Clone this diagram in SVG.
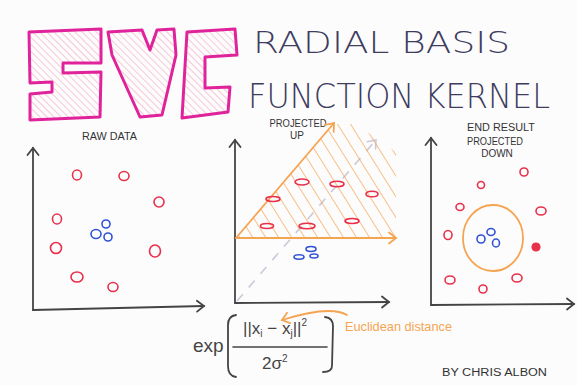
<svg xmlns="http://www.w3.org/2000/svg" width="577" height="385" viewBox="0 0 577 385">
  <style>
    .axis { fill: none; stroke: #444; stroke-width: 1.8; stroke-linecap: round; }
    .red { fill: none; stroke: #e8304a; stroke-width: 1.6; }
    .blue { fill: none; stroke: #2f52d6; stroke-width: 1.6; }
    .orange { fill: none; stroke: #f5a452; stroke-width: 1.8; stroke-linecap: round; }
    .letter { stroke: #e0239a; stroke-width: 3; stroke-linejoin: round; fill: url(#hatchPink); }
    .title { font-family: "DejaVu Sans", "Liberation Sans", Arial, sans-serif; font-weight: 200; fill: #3e3c60; }
    .label { font-family: "Liberation Sans", Arial, sans-serif; fill: #333; font-size: 10px; }
    .math { font-family: "Liberation Sans", Arial, sans-serif; fill: #444; }
  </style>
  <defs>
    <pattern id="hatchPink" width="5" height="5" patternUnits="userSpaceOnUse" patternTransform="rotate(-45)">
      <line x1="0" y1="0" x2="0" y2="5" stroke="#f3abc3" stroke-width="1.3"/>
    </pattern>
    <pattern id="hatchOrange" width="11" height="11" patternUnits="userSpaceOnUse" patternTransform="rotate(-32)">
      <line x1="0" y1="0" x2="0" y2="11" stroke="#f5a452" stroke-width="1.4"/>
    </pattern>
    <clipPath id="hatchClip">
      <polygon points="236,238 334,124 356,124 396,152 396,238"/>
    </clipPath>
    <marker id="arrowDark" markerWidth="14" markerHeight="14" refX="10" refY="7" orient="auto" markerUnits="userSpaceOnUse">
      <path d="M3,1.5 L10,7 L3,12.5" fill="none" stroke="#444" stroke-width="1.8" stroke-linecap="round"/>
    </marker>
    <marker id="arrowOrange" markerWidth="14" markerHeight="14" refX="10" refY="7" orient="auto" markerUnits="userSpaceOnUse">
      <path d="M3,1.5 L10,7 L3,12.5" fill="none" stroke="#f5a452" stroke-width="1.8" stroke-linecap="round"/>
    </marker>
    <marker id="arrowGray" markerWidth="14" markerHeight="14" refX="10" refY="7" orient="auto" markerUnits="userSpaceOnUse">
      <path d="M3,1.5 L10,7 L3,12.5" fill="none" stroke="#c9cad9" stroke-width="1.6" stroke-linecap="round"/>
    </marker>
  </defs>

  <rect width="577" height="385" fill="#fdfcfd"/>

  <!-- SVG letters -->
  <g id="logo-svg">
    <path class="letter" d="M29,32 L101,29 L101,63 L63,63 L63,73 L101,72 L100,117 L30,120 L30,94 L52,92 L52,82 L30,83 Z"/>
    <path class="letter" d="M108,32 L142,30 L150,50 L157,30 L174,29 L176,55 L162,115 L140,117 L112,55 Z"/>
    <path class="letter" d="M187,32 L235,29 L237,55 L205,57 L205,88 L230,87 L228,112 L182,118 Z"/>
  </g>

  <!-- Title -->
  <g id="title">
    <text class="title" x="253" y="53" font-size="31" textLength="257" lengthAdjust="spacingAndGlyphs">RADIAL BASIS</text>
    <text class="title" transform="translate(248,108) scale(1,1.12)" x="0" y="0" font-size="30" textLength="302" lengthAdjust="spacingAndGlyphs">FUNCTION KERNEL</text>
  </g>

  <!-- Connectors: axes and arrows -->
  <g id="connectors">
    <line class="axis" x1="33" y1="310" x2="33" y2="148" marker-end="url(#arrowDark)"/>
    <line class="axis" x1="33" y1="310" x2="204" y2="306" marker-end="url(#arrowDark)"/>
    <line class="axis" x1="235" y1="303" x2="235" y2="140" marker-end="url(#arrowDark)"/>
    <line class="axis" x1="235" y1="303" x2="389" y2="302" marker-end="url(#arrowDark)"/>
    <line class="axis" x1="431" y1="305" x2="431" y2="138" marker-end="url(#arrowDark)"/>
    <line class="axis" x1="431" y1="305" x2="574" y2="304" marker-end="url(#arrowDark)"/>
    <line x1="237" y1="301" x2="376" y2="140" stroke="#c9cad9" stroke-width="1.6" stroke-dasharray="9,9" marker-end="url(#arrowGray)"/>
    <path class="orange" d="M347,315 Q330,305 282,320" marker-end="url(#arrowOrange)"/>
  </g>

  <!-- Plot 1: raw data -->
  <g id="plot-raw">
    <text class="label" x="82" y="140" textLength="55" lengthAdjust="spacingAndGlyphs">RAW DATA</text>
    <ellipse class="red" cx="77" cy="175" rx="4.5" ry="5"/>
    <ellipse class="red" cx="124" cy="176" rx="5" ry="4.5"/>
    <ellipse class="red" cx="159" cy="202" rx="5" ry="5"/>
    <ellipse class="red" cx="57" cy="219" rx="4.5" ry="5"/>
    <ellipse class="red" cx="56" cy="248" rx="5.5" ry="5.5"/>
    <ellipse class="red" cx="155" cy="251" rx="5.5" ry="6"/>
    <ellipse class="red" cx="77" cy="277" rx="6" ry="5"/>
    <ellipse class="red" cx="113" cy="287" rx="5" ry="4.5"/>
    <ellipse class="blue" cx="106" cy="224" rx="4" ry="4"/>
    <ellipse class="blue" cx="96" cy="234" rx="5" ry="4.5"/>
    <ellipse class="blue" cx="108" cy="237" rx="4" ry="4"/>
  </g>

  <!-- Plot 2: projected up -->
  <g id="plot-projected-up">
    <text class="label" x="298" y="127" text-anchor="middle" textLength="57" lengthAdjust="spacingAndGlyphs">PROJECTED</text>
    <text class="label" x="297" y="139" text-anchor="middle">UP</text>
    <rect x="230" y="115" width="175" height="130" fill="url(#hatchOrange)" clip-path="url(#hatchClip)"/>
    <line class="orange" x1="236" y1="238" x2="334" y2="123" marker-end="url(#arrowOrange)"/>
    <line class="orange" x1="236" y1="238" x2="396" y2="238" marker-end="url(#arrowOrange)"/>
    <ellipse class="red" cx="302" cy="182" rx="7" ry="3"/>
    <ellipse class="red" cx="337" cy="184" rx="7" ry="2.8"/>
    <ellipse class="red" cx="372" cy="194" rx="6" ry="2.8"/>
    <ellipse class="red" cx="273" cy="199" rx="7" ry="2.5"/>
    <ellipse class="red" cx="352" cy="221" rx="7" ry="2.5"/>
    <ellipse class="red" cx="267" cy="226" rx="6.5" ry="2.5"/>
    <ellipse class="red" cx="307" cy="226" rx="8" ry="2.8"/>
    <ellipse class="blue" cx="311" cy="249" rx="5" ry="2.5"/>
    <ellipse class="blue" cx="299" cy="257" rx="5" ry="2.2"/>
    <ellipse class="blue" cx="314" cy="256" rx="4" ry="2"/>
  </g>

  <!-- Plot 3: projected down -->
  <g id="plot-result">
    <text class="label" x="501" y="131" text-anchor="middle" textLength="68" lengthAdjust="spacingAndGlyphs">END RESULT</text>
    <text class="label" x="495" y="145" text-anchor="middle" textLength="56" lengthAdjust="spacingAndGlyphs">PROJECTED</text>
    <text class="label" x="497" y="157" text-anchor="middle">DOWN</text>
    <ellipse class="orange" cx="493" cy="238" rx="30" ry="33"/>
    <ellipse class="red" cx="524" cy="172" rx="4" ry="4"/>
    <ellipse class="red" cx="481" cy="185" rx="3.5" ry="3.5"/>
    <ellipse class="red" cx="460" cy="207" rx="4" ry="3.5"/>
    <ellipse class="red" cx="541" cy="211" rx="5" ry="4"/>
    <ellipse class="red" cx="448" cy="235" rx="4" ry="4.5"/>
    <ellipse cx="536" cy="247" rx="4" ry="4" fill="#e8304a" stroke="#e8304a" stroke-width="1.2"/>
    <ellipse class="red" cx="450" cy="280" rx="5" ry="4"/>
    <ellipse class="red" cx="483" cy="289" rx="4" ry="4"/>
    <ellipse class="red" cx="517" cy="278" rx="5" ry="4"/>
    <ellipse class="blue" cx="491" cy="232" rx="4" ry="3.5"/>
    <ellipse class="blue" cx="481" cy="239" rx="4" ry="4"/>
    <ellipse class="blue" cx="496" cy="243" rx="3.5" ry="4"/>
  </g>

  <!-- Formula -->
  <g id="formula">
    <text class="math" x="193" y="352" font-size="19">exp</text>
    <path d="M236,315 Q228,316 228,325 L228,366 Q228,376 236,377" fill="none" stroke="#444" stroke-width="1.8" stroke-linecap="round"/>
    <path d="M325,317 Q333,318 333,326 L332,366 Q332,372 323,372" fill="none" stroke="#444" stroke-width="1.8" stroke-linecap="round"/>
    <text class="math" x="243" y="334" font-size="17">||x<tspan font-size="10" dy="3">i</tspan><tspan dy="-3"> − x</tspan><tspan font-size="10" dy="3">j</tspan><tspan dy="-3">||</tspan><tspan font-size="10" dy="-8">2</tspan></text>
    <line x1="233" y1="347" x2="327" y2="347" stroke="#444" stroke-width="1.6" stroke-linecap="round"/>
    <text class="math" x="262" y="369" font-size="17">2σ<tspan font-size="10" dy="-7">2</tspan></text>
  </g>

  <g id="euclidean-label">
    <text x="345" y="331" font-family="Liberation Sans, Arial, sans-serif" font-size="13" fill="#f5a452" textLength="107" lengthAdjust="spacingAndGlyphs">Euclidean distance</text>
  </g>

  <g id="credit">
    <text class="label" x="442" y="376" font-size="11" textLength="105" lengthAdjust="spacingAndGlyphs">BY CHRIS ALBON</text>
  </g>
</svg>
